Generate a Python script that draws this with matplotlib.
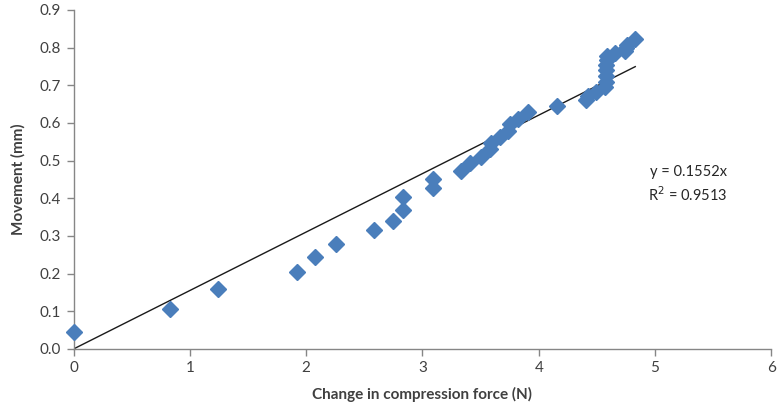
import matplotlib
matplotlib.use("Agg")
import matplotlib.pyplot as plt
import numpy as np

plt.rcParams['font.family'] = ['Lato', 'DejaVu Sans']

force = [0.0, 0.83, 1.24, 1.92, 2.08, 2.26, 2.58, 2.75, 2.83, 2.83,
         3.09, 3.09, 3.33, 3.41, 3.50, 3.58, 3.59, 3.67, 3.74, 3.75,
         3.82, 3.91, 4.16, 4.41, 4.42, 4.49, 4.57, 4.58, 4.58, 4.58,
         4.58, 4.59, 4.59, 4.66, 4.74, 4.75, 4.76, 4.83]
movement = [0.045, 0.105, 0.16, 0.205, 0.245, 0.28, 0.315, 0.34, 0.37, 0.403,
            0.428, 0.45, 0.473, 0.494, 0.51, 0.532, 0.548, 0.563, 0.58, 0.598,
            0.61, 0.628, 0.645, 0.66, 0.672, 0.683, 0.695, 0.71, 0.725, 0.74,
            0.755, 0.768, 0.778, 0.785, 0.79, 0.80, 0.808, 0.822]
slope = 0.1552
r2 = 0.9513

x_ticks = [0, 1, 2, 3, 4, 5, 6]
y_ticks = [0.0, 0.1, 0.2, 0.3, 0.4, 0.5, 0.6, 0.7, 0.8, 0.9]

fig = plt.figure(figsize=(7.77, 4.09), dpi=100)
ax = fig.add_axes([0.0946, 0.1467, 0.8981, 0.8289])

ax.plot(force, movement, linestyle='none', marker='D', markersize=8,
        color='#4a7ebb', markeredgecolor='#4a7ebb', zorder=3, clip_on=False)
fx = np.array([0.0, max(force)])
ax.plot(fx, slope * fx, color='#1a1a1a', linewidth=1.0, zorder=2)

ax.set_xlim(0, 6)
ax.set_ylim(0, 0.9)
ax.set_xticks(x_ticks)
ax.set_yticks(y_ticks)
ax.set_xticklabels([str(t) for t in x_ticks])
ax.set_yticklabels([f"{t:.1f}" for t in y_ticks])

for s in ['top', 'right']:
    ax.spines[s].set_visible(False)
for s in ['left', 'bottom']:
    ax.spines[s].set_color('#868686')
    ax.spines[s].set_linewidth(1.0)
ax.tick_params(axis='both', direction='out', length=5, width=1.0,
               color='#868686', labelsize=11, labelcolor='#404040', pad=4)

ax.set_xlabel('Change in compression force (N)', fontsize=11, fontweight='bold',
              color='#404040', labelpad=8)
ax.set_ylabel('Movement (mm)', fontsize=11, fontweight='bold',
              color='#404040', labelpad=10)

ax.text(5.62, 0.47, f'y = {slope}x', ha='right', va='center', fontsize=10.5,
        color='#262626')
ax.text(5.62, 0.41, f'R$^2$ = {r2}', ha='right', va='center', fontsize=10.5,
        color='#262626')

fig.savefig('out.png', dpi=100)
